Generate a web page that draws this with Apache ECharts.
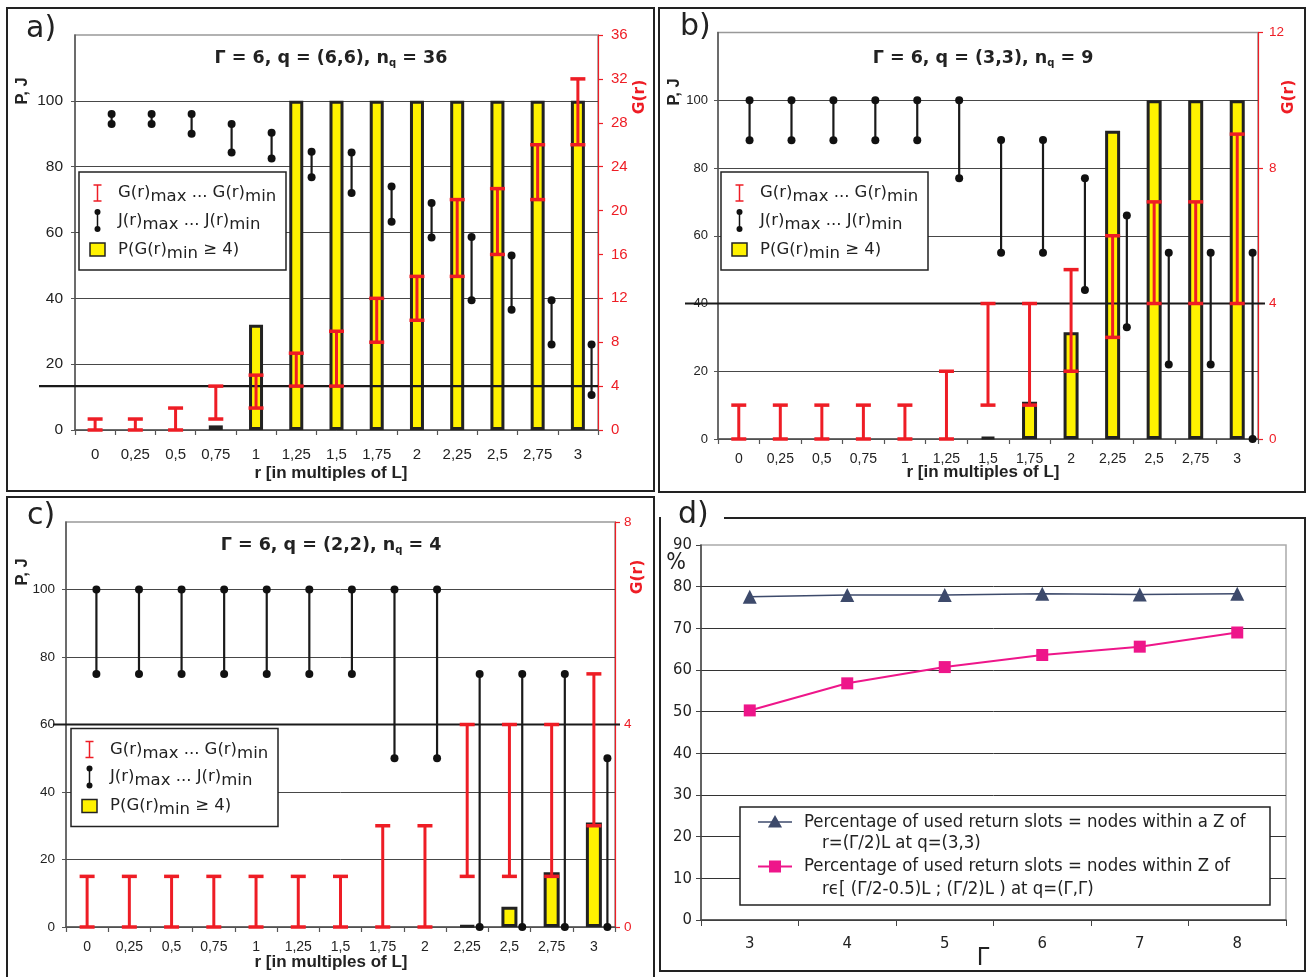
<!DOCTYPE html>
<html><head><meta charset="utf-8">
<script src="https://cdn.jsdelivr.net/npm/echarts@6/dist/echarts.min.js"></script>
<style>html,body{margin:0;padding:0;background:#fff}#c{width:1307px;height:977px}</style>
</head><body><div id="c"></div><script>
// ---------- data ----------
const rCats = ['0','0,25','0,5','0,75','1','1,25','1,5','1,75','2','2,25','2,5','2,75','3'];
// panel a: Γ=6, q=(6,6)
const aP    = [0,0,0,1.4,32,100,100,100,100,100,100,100,100];
const aGmin = [0,0,0,1,2,4,4,8,10,14,16,21,26];
const aGmax = [1,1,2,4,5,7,9,12,14,21,22,26,32];
const aJmax = [96,96,96,93,90.3,84.5,84.3,74,69,58.6,53,39.4,26];
const aJmin = [93,93,90,84.3,82.5,76.8,72,63.3,58.5,39.4,36.5,26,10.6];
// panel b: Γ=6, q=(3,3)
const bP    = [0,0,0,0,0,0,0.6,11,31.5,91,100,100,100];
const bGmin = [0,0,0,0,0,0,1,1,2,3,4,4,4];
const bGmax = [1,1,1,1,1,2,4,4,5,6,7,7,9];
const bJmax = [100,100,100,100,100,100,88.3,88.3,77,66,55,55,55];
const bJmin = [88.2,88.2,88.2,88.2,88.2,77,55,55,44,33,22,22,0];
// panel c: Γ=6, q=(2,2)
const cP    = [0,0,0,0,0,0,0,0,0,0.5,6,16.2,31];
const cGmin = [0,0,0,0,0,0,0,0,0,1,1,1,2];
const cGmax = [1,1,1,1,1,1,1,2,2,4,4,4,5];
const cJmax = [100,100,100,100,100,100,100,100,100,75,75,75,50];
const cJmin = [75,75,75,75,75,75,75,50,50,0,0,0,0];
// panel d
const gammaCats = ['3','4','5','6','7','8'];
const dTri = [77.6,78.0,78.0,78.3,78.1,78.3];
const dSq  = [50.3,56.8,60.7,63.6,65.6,69.0];
const gThreshold = 4;

// ---------- styles ----------
const RED = '#ee1d25', YEL = '#fff200', INK = '#222';
const NAVY = '#3d4a6b', PINK = '#ee168a';
const ARIAL = 'Liberation Sans, Arial, sans-serif';
const VERD = 'DejaVu Sans, Verdana, sans-serif';
const TAH = '"DejaVu Sans Condensed", "Liberation Sans Narrow", "DejaVu Sans", sans-serif';

const panels = [
  {grid:{left:75,top:35,width:523,height:395}, gMax:36, P:aP, Gmin:aGmin, Gmax:aGmax, Jmax:aJmax, Jmin:aJmin,
   jOff:[0.41,0.34], fsL:15.5, fsR:15, fsX:15, mX:17, mL:12, mR:13, bw:14},
  {grid:{left:718,top:32.5,width:540,height:406.5}, gMax:12, P:bP, Gmin:bGmin, Gmax:bGmax, Jmax:bJmax, Jmin:bJmin,
   jOff:[0.26,0.37], fsL:13, fsR:13.5, fsX:14, mX:13, mL:10, mR:11, bw:15},
  {grid:{left:66,top:522,width:549,height:405}, gMax:8, P:cP, Gmin:cGmin, Gmax:cGmax, Jmax:cJmax, Jmin:cJmin,
   jOff:[0.22,0.32], fsL:13.5, fsR:13.5, fsX:14, mX:13, mL:11, mR:9, bw:16}
];

function gRender(params, api) {
  const lo = api.coord([api.value(0), api.value(1)]);
  const hi = api.coord([api.value(0), api.value(2)]);
  const x = lo[0], cw = 7.5;
  return {type:'group', children:[
    {type:'line', shape:{x1:x,y1:lo[1],x2:x,y2:hi[1]}, style:{stroke:RED,lineWidth:3}},
    {type:'line', shape:{x1:x-cw,y1:hi[1],x2:x+cw,y2:hi[1]}, style:{stroke:RED,lineWidth:3.5}},
    {type:'line', shape:{x1:x-cw,y1:lo[1],x2:x+cw,y2:lo[1]}, style:{stroke:RED,lineWidth:3.5}}
  ]};
}
function jRender(f0, f1) {
  return function(params, api) {
    const idx = api.value(0);
    const bw = api.size([1,0])[0];
    const lo = api.coord([idx, api.value(1)]);
    const hi = api.coord([idx, api.value(2)]);
    const x = lo[0] + bw*(f0 + (f1-f0)*idx/12);
    return {type:'group', children:[
      {type:'line', shape:{x1:x,y1:lo[1],x2:x,y2:hi[1]}, style:{stroke:'#1a1a1a',lineWidth:2.2}},
      {type:'circle', shape:{cx:x,cy:hi[1],r:4}, style:{fill:'#111'}},
      {type:'circle', shape:{cx:x,cy:lo[1],r:4}, style:{fill:'#111'}}
    ]};
  };
}

const grids = [], xAxes = [], yAxes = [], series = [];
panels.forEach((p, k) => {
  grids.push(Object.assign({show:true, borderColor:'#999', borderWidth:1.5, backgroundColor:'transparent'}, p.grid));
  xAxes.push({type:'category', gridIndex:k, data:rCats, boundaryGap:true,
    axisLine:{lineStyle:{color:'#555', width:1.5}},
    axisTick:{show:true, length:5, lineStyle:{color:'#555', width:1.2}},
    axisLabel:{interval:0, color:INK, fontSize:p.fsX, fontFamily:ARIAL, margin:p.mX},
    splitLine:{show:false}});
  yAxes.push({type:'value', gridIndex:k, min:0, max:120, interval:20, position:'left',
    axisLine:{show:true, lineStyle:{color:'#555', width:1.5}},
    axisTick:{show:true, length:4, lineStyle:{color:'#555'}},
    axisLabel:{color:INK, fontSize:p.fsL, fontFamily:ARIAL, margin:p.mL, showMaxLabel:false},
    splitLine:{show:true, showMaxLine:false, lineStyle:{color:'#474747', width:1}}});
  yAxes.push({type:'value', gridIndex:k, min:0, max:p.gMax, interval:4, position:'right',
    axisLine:{show:true, lineStyle:{color:RED, width:1.2}},
    axisTick:{show:true, length:5, lineStyle:{color:RED, width:1.2}},
    axisLabel:{color:RED, fontSize:p.fsR, fontFamily:ARIAL, margin:p.mR},
    splitLine:{show:false}});
  series.push({type:'bar', xAxisIndex:k, yAxisIndex:2*k, z:2, barWidth:p.bw,
    data:p.P.map(v => v === 0 ? '-' : v),
    itemStyle:{color:YEL, borderColor:INK, borderWidth:3}});
  series.push({type:'custom', xAxisIndex:k, yAxisIndex:2*k, z:5, renderItem:jRender(p.jOff[0], p.jOff[1]),
    encode:{x:0, y:[1,2]}, data:rCats.map((c,i)=>[i, p.Jmin[i], p.Jmax[i]])});
  series.push({type:'custom', xAxisIndex:k, yAxisIndex:2*k+1, z:6, renderItem:gRender,
    encode:{x:0, y:[1,2]}, data:rCats.map((c,i)=>[i, p.Gmin[i], p.Gmax[i]])});
});
// panel d
grids.push({left:701, top:545, width:585, height:375, show:true, borderColor:'#aaa', borderWidth:1.5});
xAxes.push({type:'category', gridIndex:3, data:gammaCats, boundaryGap:true,
  axisLine:{lineStyle:{color:'#444', width:1.5}},
  axisTick:{show:true, length:6, lineStyle:{color:'#444'}},
  axisLabel:{color:INK, fontSize:16.5, fontFamily:TAH, margin:15}});
yAxes.push({type:'value', gridIndex:3, min:0, max:90, interval:10,
  axisLine:{show:true, lineStyle:{color:'#444', width:1.5}},
  axisTick:{show:true, length:5, lineStyle:{color:'#444'}},
  axisLabel:{color:INK, fontSize:16.5, fontFamily:TAH, margin:9},
  splitLine:{show:true, showMaxLine:false, lineStyle:{color:'#333', width:1}}});
series.push({type:'line', xAxisIndex:3, yAxisIndex:6, data:dTri, symbol:'triangle', symbolSize:14,
  itemStyle:{color:NAVY}, lineStyle:{color:NAVY, width:1.5}, z:5});
series.push({type:'line', xAxisIndex:3, yAxisIndex:6, data:dSq, symbol:'rect', symbolSize:12,
  itemStyle:{color:PINK}, lineStyle:{color:PINK, width:2}, z:5});

const chart = echarts.init(document.getElementById('c'), null, {renderer:'canvas'});
chart.setOption({animation:false, backgroundColor:'#fff', grid:grids, xAxis:xAxes, yAxis:yAxes, series});

// ---------- graphic annotations ----------
const G = [];
function txt(x, y, text, font, fill, align, extra) {
  return Object.assign({type:'text', x, y, z:12, style:{text, font, fill:fill||INK, align:align||'left', verticalAlign:'middle'}}, extra||{});
}
function richTxt(x, y, text, rich, align) {
  return {type:'text', x, y, z:12, style:{text, rich, fill:INK, align:align||'left', verticalAlign:'middle'}};
}
// frames
[[7,8,647,483],[659,8,646,484],[7,497,647,490]].forEach(r =>
  G.push({type:'rect', z:1, shape:{x:r[0],y:r[1],width:r[2],height:r[3]}, style:{fill:'none', stroke:INK, lineWidth:2}}));
G.push({type:'polyline', z:1, shape:{points:[[724,518],[1305,518],[1305,971],[660,971],[660,517]]}, style:{fill:'none', stroke:INK, lineWidth:2}});
// panel letters
[['a)',26,29],['b)',680,27],['c)',27,516],['d)',678,515]].forEach(l => G.push(txt(l[1], l[2], l[0], '30px '+VERD, INK)));
// titles
const titleRich = {b:{font:'bold 17.5px '+VERD, fill:INK}, q:{font:'bold 10px '+VERD, fill:INK, padding:[10,0,0,0]}};
G.push(richTxt(331, 58, '{b|Γ = 6, q = (6,6), n}{q|q}{b| = 36}', titleRich, 'center'));
G.push(richTxt(983, 58, '{b|Γ = 6, q = (3,3), n}{q|q}{b| = 9}', titleRich, 'center'));
G.push(richTxt(331, 545, '{b|Γ = 6, q = (2,2), n}{q|q}{b| = 4}', titleRich, 'center'));
// axis names
[[22,91],[674,92],[22,572]].forEach(p => G.push(txt(p[0], p[1], 'P, J', 'bold 16.5px '+ARIAL, INK, 'center', {rotation:Math.PI/2})));
[[640,97],[1289,97],[638,577]].forEach(p => G.push(txt(p[0], p[1], 'G(r)', 'bold 15.5px '+VERD, RED, 'center', {rotation:Math.PI/2})));
[[331,473],[983,472],[331,962]].forEach(p => G.push(txt(p[0], p[1], 'r [in multiples of L]', 'bold 17px '+ARIAL, INK, 'center')));
G.push(txt(676, 563, '%', '23px '+TAH, INK, 'center'));
G.push(txt(983, 958, 'Γ', '25px '+TAH, INK, 'center'));

// legends a-c
const legRich = {n:{font:'16.5px '+VERD, fill:INK}, s:{font:'16.5px '+VERD, fill:INK, padding:[8,0,0,0]}};
function legendABC(bx, by) {
  const bw = 207, bh = 98;
  G.push({type:'rect', z:10, shape:{x:bx,y:by,width:bw,height:bh}, style:{fill:'#fff', stroke:INK, lineWidth:1.5}});
  const ix = bx + 18.5, tx = bx + 39;
  const y1 = by + 21, y2 = by + 48.5, y3 = by + 77.5;
  G.push({type:'line', z:11, shape:{x1:ix,y1:y1-8,x2:ix,y2:y1+8}, style:{stroke:RED, lineWidth:1.5}});
  G.push({type:'line', z:11, shape:{x1:ix-4,y1:y1-8,x2:ix+4,y2:y1-8}, style:{stroke:RED, lineWidth:1.5}});
  G.push({type:'line', z:11, shape:{x1:ix-4,y1:y1+8,x2:ix+4,y2:y1+8}, style:{stroke:RED, lineWidth:1.5}});
  G.push({type:'line', z:11, shape:{x1:ix,y1:y2-8.5,x2:ix,y2:y2+8.5}, style:{stroke:'#111', lineWidth:1.5}});
  G.push({type:'circle', z:11, shape:{cx:ix,cy:y2-8.5,r:3}, style:{fill:'#111'}});
  G.push({type:'circle', z:11, shape:{cx:ix,cy:y2+8.5,r:3}, style:{fill:'#111'}});
  G.push({type:'rect', z:11, shape:{x:ix-7.5,y:y3-6.5,width:15,height:13}, style:{fill:YEL, stroke:INK, lineWidth:1.5}});
  G.push(richTxt(tx, y1, '{n|G(r)}{s|max}{n| ... G(r)}{s|min}', legRich));
  G.push(richTxt(tx, y2, '{n|J(r)}{s|max}{n| ... J(r)}{s|min}', legRich));
  G.push(richTxt(tx, y3, '{n|P(G(r)}{s|min}{n| ≥ 4)}', legRich));
}
legendABC(79, 172);
legendABC(721, 172);
legendABC(71, 728.5);

// legend d
G.push({type:'rect', z:10, shape:{x:740,y:807,width:530,height:98}, style:{fill:'#fff', stroke:INK, lineWidth:1.5}});
G.push({type:'line', z:11, shape:{x1:758,y1:822,x2:792,y2:822}, style:{stroke:NAVY, lineWidth:1.5}});
G.push({type:'polygon', z:11, shape:{points:[[775,815],[782,827.5],[768,827.5]]}, style:{fill:NAVY}});
G.push({type:'line', z:11, shape:{x1:758,y1:866.5,x2:792,y2:866.5}, style:{stroke:PINK, lineWidth:2}});
G.push({type:'rect', z:11, shape:{x:769,y:860.5,width:12,height:12}, style:{fill:PINK}});
const LF = '18.4px '+TAH;
G.push(txt(804, 822, 'Percentage of used return slots = nodes within a Z of', LF, INK));
G.push(txt(822, 843.5, 'r=(Γ/2)L at q=(3,3)', LF, INK));
G.push(txt(804, 866.5, 'Percentage of used return slots = nodes within Z of', LF, INK));
G.push(txt(822, 889, 'rϵ[ (Γ/2-0.5)L ; (Γ/2)L ) at q=(Γ,Γ)', LF, INK));

// threshold lines at G(r) = 4 (via axis scale)
const thr = [[1, 39, 598], [3, 685, 1265], [5, 53, 620]];
thr.forEach(t => {
  const y = chart.convertToPixel({yAxisIndex:t[0]}, gThreshold);
  G.push({type:'line', z:3, shape:{x1:t[1],y1:y,x2:t[2],y2:y}, style:{stroke:'#1a1a1a', lineWidth:2.2}});
});

chart.setOption({graphic:G});
</script></body></html>
